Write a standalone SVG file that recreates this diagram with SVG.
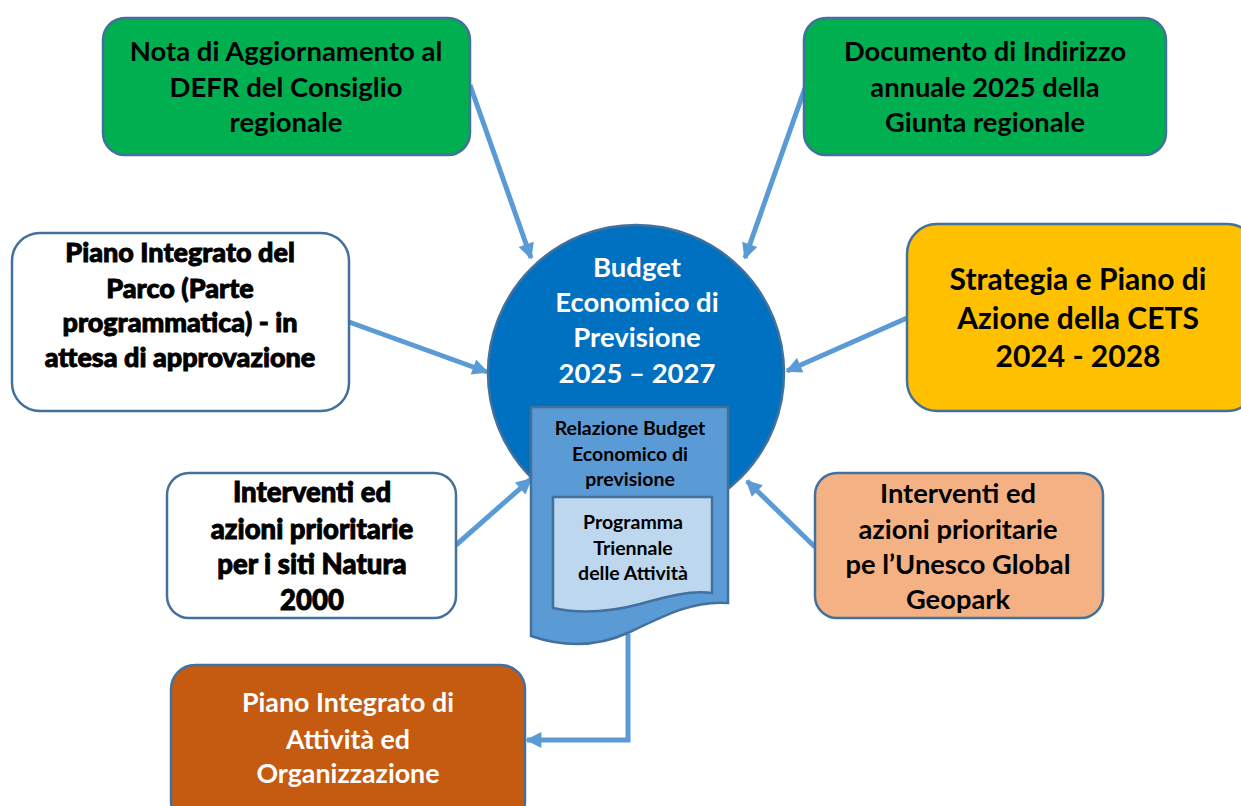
<svg xmlns="http://www.w3.org/2000/svg" width="1241" height="806" viewBox="0 0 1241 806">
<defs>
<style>
.box{stroke:#41719C;stroke-width:2.5}
.t{font-family:Lato,"Open Sans","Liberation Sans",sans-serif;font-weight:700;text-anchor:middle;fill:#000}
.h{font-family:Lato,"Open Sans","Liberation Sans",sans-serif;font-weight:900;text-anchor:middle;fill:#000;stroke:#000;stroke-width:0.9}
.w{fill:#fff}
.c{fill:none;stroke:#5B9BD5;stroke-width:5}
</style>
<marker id="ah" viewBox="0 0 10 10" refX="9" refY="5" markerWidth="18" markerHeight="16" markerUnits="userSpaceOnUse" orient="auto">
<path d="M0,0 L10,5 L0,10 Z" fill="#5B9BD5"/>
</marker>
</defs>
<rect width="1241" height="806" fill="#fff"/>

<g id="connectors">
<line class="c" x1="470" y1="85" x2="531" y2="258" marker-end="url(#ah)"/>
<line class="c" x1="805" y1="88" x2="745" y2="258" marker-end="url(#ah)"/>
<line class="c" x1="349" y1="322" x2="487" y2="372" marker-end="url(#ah)"/>
<line class="c" x1="907" y1="318" x2="787" y2="371" marker-end="url(#ah)"/>
<line class="c" x1="456" y1="545" x2="531" y2="479" marker-end="url(#ah)"/>
<line class="c" x1="815" y1="547" x2="747" y2="481" marker-end="url(#ah)"/>
<polyline class="c" points="628,634 628,740 527,740" marker-end="url(#ah)"/>
</g>

<g id="n1">
<rect class="box" x="103" y="18" width="367" height="137" rx="22" fill="#00B050"/>
<text class="t" font-size="27.5" x="286" y="61">Nota di Aggiornamento al</text>
<text class="t" font-size="27.5" x="286" y="97">DEFR del Consiglio</text>
<text class="t" font-size="27.5" x="286" y="132">regionale</text>
</g>

<g id="n2">
<rect class="box" x="804" y="18" width="362" height="137" rx="22" fill="#00B050"/>
<text class="t" font-size="27.3" x="985" y="61">Documento di Indirizzo</text>
<text class="t" font-size="27.3" x="985" y="97">annuale 2025 della</text>
<text class="t" font-size="27.3" x="985" y="132">Giunta regionale</text>
</g>

<g id="n3">
<rect class="box" x="12" y="233" width="337" height="178" rx="28" fill="#fff"/>
<text class="h" font-size="27" x="180" y="262">Piano Integrato del</text>
<text class="h" font-size="27" x="180" y="298">Parco (Parte</text>
<text class="h" font-size="27" x="180" y="332">programmatica) - in</text>
<text class="h" font-size="27" x="180" y="367">attesa di approvazione</text>
</g>

<g id="n4">
<rect class="box" x="907" y="224" width="350" height="187" rx="30" fill="#FFC000"/>
<text class="t" font-size="30" x="1078" y="290">Strategia e Piano di</text>
<text class="t" font-size="30" x="1078" y="329">Azione della CETS</text>
<text class="t" font-size="30" x="1078" y="367">2024 - 2028</text>
</g>

<g id="n5">
<rect class="box" x="167" y="473" width="289" height="145" rx="22" fill="#fff"/>
<text class="h" font-size="27.5" x="312" y="502">Interventi ed</text>
<text class="h" font-size="27.5" x="312" y="539">azioni prioritarie</text>
<text class="h" font-size="27.5" x="312" y="574">per i siti Natura</text>
<text class="h" font-size="27.5" x="312" y="610">2000</text>
</g>

<g id="n6">
<rect class="box" x="815" y="473" width="288" height="145" rx="22" fill="#F4B183"/>
<text class="t" font-size="27.3" x="958" y="503">Interventi ed</text>
<text class="t" font-size="27.3" x="958" y="539">azioni prioritarie</text>
<text class="t" font-size="27.3" x="958" y="574">pe l’Unesco Global</text>
<text class="t" font-size="27.3" x="958" y="609">Geopark</text>
</g>

<g id="n7">
<rect class="box" x="171" y="665" width="354" height="160" rx="24" fill="#C55A11"/>
<text class="t w" font-size="26.8" x="348" y="712">Piano Integrato di</text>
<text class="t w" font-size="26.8" x="348" y="749">Attività ed</text>
<text class="t w" font-size="26.8" x="348" y="783">Organizzazione</text>
</g>

<g id="center">
<circle class="box" cx="636" cy="373" r="148" fill="#0070C0"/>
<text class="t w" font-size="27.5" x="637" y="277">Budget</text>
<text class="t w" font-size="27.5" x="637" y="312">Economico di</text>
<text class="t w" font-size="27.5" x="637" y="347">Previsione</text>
<text class="t w" font-size="27.5" x="637" y="383">2025 – 2027</text>
</g>

<g id="doc">
<path class="box" fill="#5B9BD5" d="M531,407 H728 V603 C695,600 665,615 630,632 C595,648 560,646 531,636 Z"/>
<text class="t" font-size="19.5" x="630" y="435">Relazione Budget</text>
<text class="t" font-size="19.5" x="630" y="461">Economico di</text>
<text class="t" font-size="19.5" x="630" y="486">previsione</text>
</g>

<g id="doc-inner">
<path class="box" fill="#BDD7EE" d="M553,497 H712 V593 C690,590 665,597 640,604 C610,612 580,614 553,608 Z"/>
<text class="t" font-size="19.5" x="633" y="529">Programma</text>
<text class="t" font-size="19.5" x="633" y="555">Triennale</text>
<text class="t" font-size="19.5" x="633" y="580">delle Attività</text>
</g>
</svg>
